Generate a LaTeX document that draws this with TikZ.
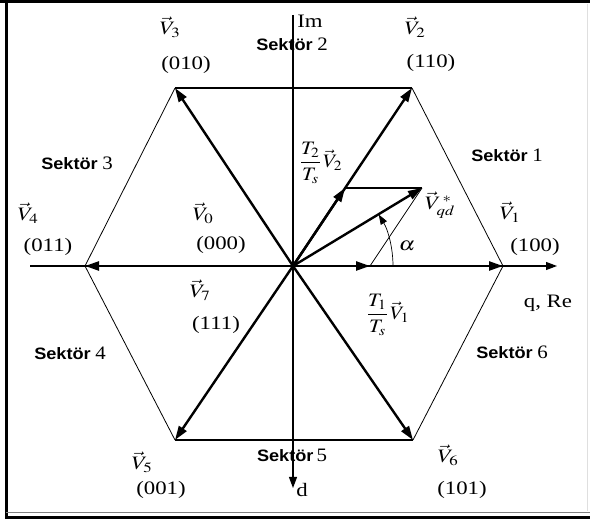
\documentclass[tikz,border=0pt]{standalone}
\usepackage{amsmath}
\usepackage{mathptmx}
\usepackage{fontspec}
\setmainfont{Liberation Serif}
\setsansfont{Liberation Sans}
\usetikzlibrary{arrows.meta}

\newcommand{\sektor}[2][~]{{\sffamily\bfseries Sektör}#1{\fontsize{19}{21}\selectfont #2}}

\begin{document}
\begin{tikzpicture}[x=1pt, y=-1pt,
  lab/.style={font=\fontsize{19}{21}\selectfont, inner sep=0pt, xscale=1.2},
  sek/.style={font=\fontsize{16.5}{19}\selectfont, inner sep=0pt, xscale=1.1},
  frac/.style={font=\fontsize{19}{21}\selectfont, inner sep=0pt, xscale=1.1},
  side/.style={line width=0.8pt},
  rim/.style={line width=1.6pt},
  vec/.style={line width=2.4pt, -{Triangle[length=14pt,width=9pt]}},
  axis/.style={line width=1.1pt, -{Triangle[length=11pt,width=8pt]}},
  helper/.style={line width=0.7pt},
]
\useasboundingbox (0,0) rectangle (590,521);

% Frame
\draw[line width=3pt] (0,1.5) -- (590,1.5);
\draw[line width=3pt] (6,0) -- (6,519);
\draw[line width=1pt, gray] (6,513) -- (590,513);
\draw[line width=2.5pt] (6,517.5) -- (590,517.5);
\draw[gray!25] (587,4) -- (587,511);

% === Points ===
\coordinate (O) at (293,266);
\coordinate (v1) at (503,266);
\coordinate (v2) at (412,88);
\coordinate (v3) at (175,88);
\coordinate (v4) at (85,266);
\coordinate (v5) at (175,440);
\coordinate (v6) at (413,440);
\coordinate (t1) at (370,266);
\coordinate (t2) at (345,188);
\coordinate (vqd) at (422,188);

% Axes
\coordinate (reL) at (30,266);
\coordinate (reR) at (557,266);
\coordinate (imT) at (293,15);
\coordinate (imB) at (293,488);
\draw[axis] (reL) -- (reR);
\draw[axis] (imT) -- (imB);

% Hexagon
\draw[side] (v1) -- (v2);
\draw[side] (v3) -- (v4) -- (v5);
\draw[side] (v6) -- (v1);
\draw[rim] (v3) -- (v2);
\draw[rim] (v5) -- (v6);

% === Switching vectors ===
\foreach \i in {1,...,6}
  \draw[vec] (O) -- (v\i);

% Reference vector and its parts
\draw[vec] (O) -- (t1);
\draw[vec] (O) -- (t2);
\draw[vec] (O) -- (vqd);
\draw[line width=1.4pt] (t2) -- (vqd);
\draw[helper] (t1) -- (vqd);
\draw[helper, -{Triangle[length=10pt,width=7pt]}] (O) ++(100,0)
  arc[start angle=0, end angle=31, radius=100pt];

% === Labels ===
\node[lab] (l3) at (170,27) {$\vec{V}_3$};
\node[lab] (c3) at (186,65) {(010)};
\node[lab] (l2) at (415,27) {$\vec{V}_2$};
\node[lab] (c2) at (431,63) {(110)};
\node[lab] (l1) at (510,212) {$\vec{V}_1$};
\node[lab] (c1) at (535,247) {(100)};
\node[lab] (l4) at (28,213) {$\vec{V}_4$};
\node[lab] (c4) at (48,247) {(011)};
\node[lab] (l5) at (142,462) {$\vec{V}_5$};
\node[lab] (c5) at (161,490) {(001)};
\node[lab] (l6) at (448,455) {$\vec{V}_6$};
\node[lab] (c6) at (462,490) {(101)};
\node[lab] (l0) at (203,213) {$\vec{V}_0$};
\node[lab] (c0) at (221,245) {(000)};
\node[lab] (l7) at (200,290) {$\vec{V}_7$};
\node[lab] (c7) at (216,325) {(111)};

\node[lab] (im) at (310,21) {Im};
\node[lab] (re) at (548,303) {q, Re};
\node[lab] (dax) at (302,490) {d};

\node[sek] (s1) at (507,155) {\sektor{1}};
\node[sek] (s2) at (292,44) {\sektor{2}};
\node[sek] (s3) at (77,163) {\sektor{3}};
\node[sek] (s4) at (70,353) {\sektor{4}};
\node[sek] (s5) at (292,455) {\sektor[\,]{5}};
\node[sek] (s6) at (512,352) {\sektor{6}};

\node[frac] (f2) at (321,163) {$\dfrac{T_2}{T_s}\,\vec{V}_2$};
\node[frac] (f1) at (388,315) {$\dfrac{T_1}{T_s}\,\vec{V}_1$};
\node[lab] (ref) at (440,205) {$\vec{V}^{\,*}_{qd}$};
\node[lab] (ang) at (407,246) {$\alpha$};

\end{tikzpicture}
\end{document}
